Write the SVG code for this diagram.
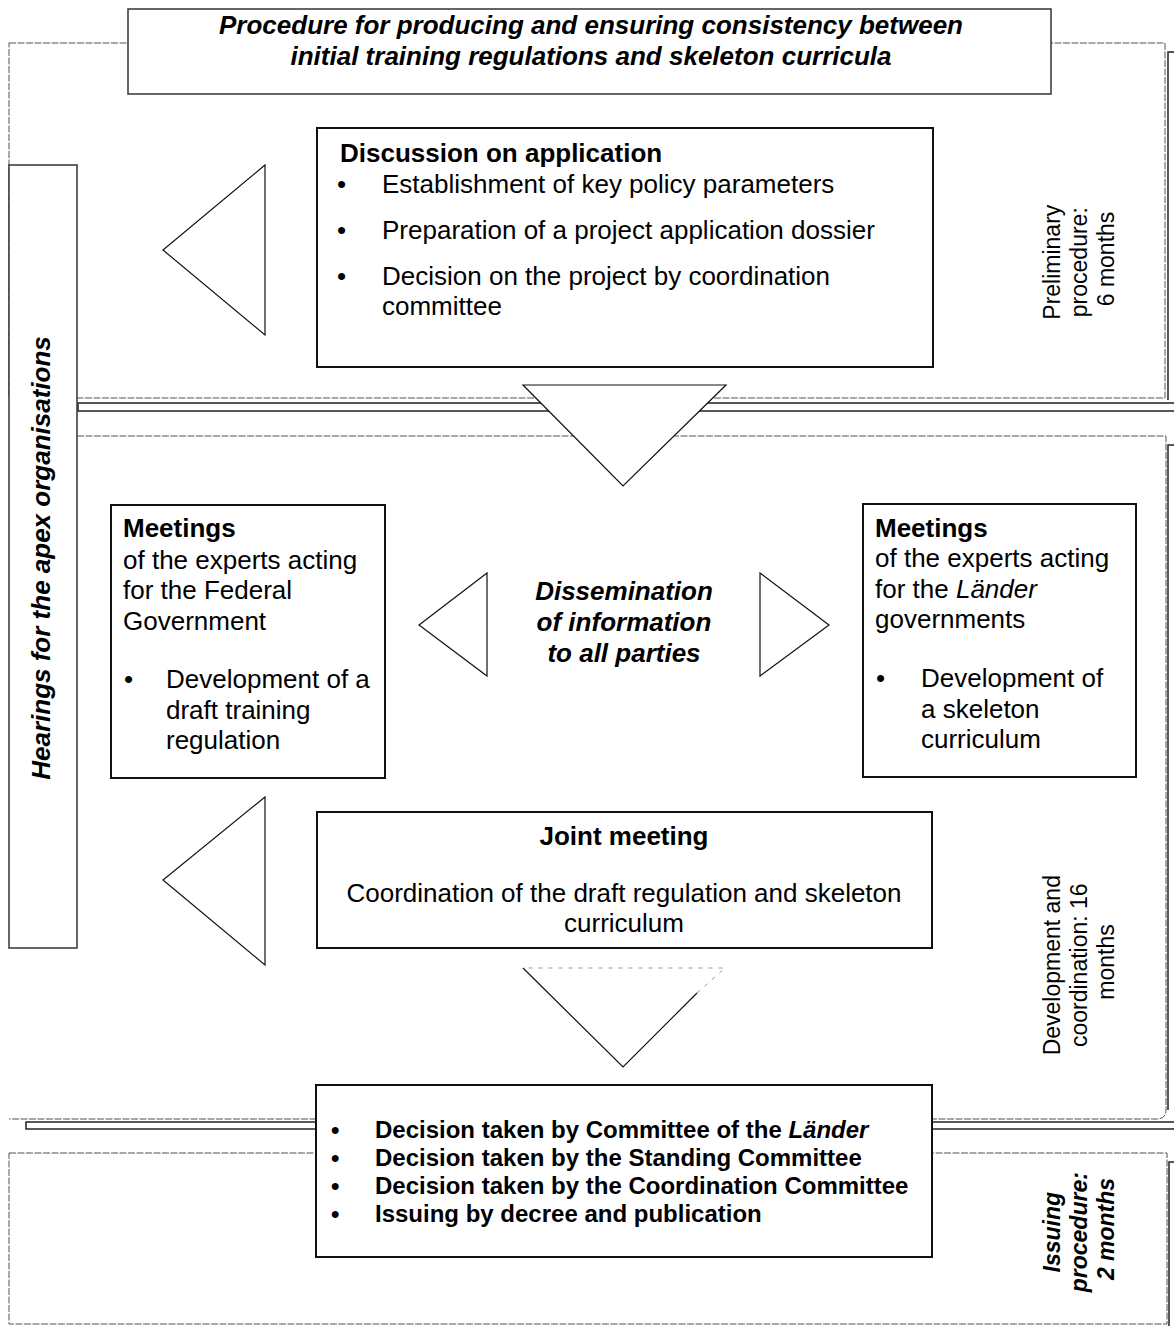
<svg xmlns="http://www.w3.org/2000/svg" width="1174" height="1326" viewBox="0 0 1174 1326">
  <defs>
    <style>
      .panel { fill: none; stroke: #555; stroke-width: 1; stroke-dasharray: 7 1.5; }
      .bracket { fill: none; stroke: #222; stroke-width: 1.5; }
      .bar { fill: #fff; stroke: #222; stroke-width: 1.5; }
      .box { fill: #fff; stroke: #111; stroke-width: 2; }
      .thinbox { fill: #fff; stroke: #333; stroke-width: 1.5; }
      .tri { fill: #fff; stroke: #111; stroke-width: 1.2; }
      .tri-open { fill: none; stroke: #111; stroke-width: 1.2; }
      .faint { fill: none; stroke: #999; stroke-width: 1; stroke-dasharray: 4 6; }
      text { font-family: "Liberation Sans", Arial, sans-serif; fill: #000; }
      .t26 { font-size: 26px; }
      .b26 { font-size: 26px; font-weight: bold; }
      .bi26 { font-size: 26px; font-weight: bold; font-style: italic; }
      .b24 { font-size: 24px; font-weight: bold; }
      .t23 { font-size: 23px; }
      .bi23 { font-size: 23px; font-weight: bold; font-style: italic; }
      .mid { text-anchor: middle; }
    </style>
  </defs>

  <rect width="1174" height="1326" fill="#fff"/>

  <!-- phase panels -->
  <g id="phase-panels">
    <rect class="panel" x="9" y="43" width="1156" height="355"/>
    <path class="bracket" d="M1174,52 H1168 V400"/>
    <path class="panel" d="M9,436 H1166 V1110 Q1166,1119 1157,1119 H9"/>
    <path class="bracket" d="M1174,445 H1168 V1110"/>
    <rect class="panel" x="9" y="1153" width="1158" height="171"/>
    <path class="bracket" d="M1174,1162 H1169 V1326"/>
    <!-- phase separators -->
    <rect class="bar" x="78" y="403" width="1100" height="8"/>
    <rect class="bar" x="26" y="1122" width="1152" height="7"/>
  </g>

  <!-- title -->
  <g id="title">
    <rect class="thinbox" x="128" y="9" width="923" height="85"/>
    <text class="bi26 mid" x="591" y="34">Procedure for producing and ensuring consistency between</text>
    <text class="bi26 mid" x="591" y="65">initial training regulations and skeleton curricula</text>
  </g>

  <!-- hearings side box -->
  <g id="hearings">
    <rect class="thinbox" x="9" y="165" width="68" height="783"/>
    <text class="bi26 mid" transform="translate(50,558) rotate(-90)">Hearings for the apex organisations</text>
  </g>

  <!-- connectors -->
  <g id="connectors">
    <polygon class="tri-open" points="265,165 163,250 265,335"/>
    <polygon class="tri" points="523,385 726,385 623,486"/>
    <polygon class="tri-open" points="487,573 419,625 487,676"/>
    <polygon class="tri-open" points="760,573 829,625 760,676"/>
    <polygon class="tri-open" points="265,797 163,880 265,965"/>
    <path class="tri-open" d="M523,968 L623,1067 L697,993"/>
    <path class="faint" d="M697,993 L725,968 H523"/>
  </g>

  <!-- discussion on application -->
  <g id="discussion">
    <rect class="box" x="317" y="128" width="616" height="239"/>
    <text class="b26" x="340" y="162">Discussion on application</text>
    <text class="t26" x="337" y="193">•</text>
    <text class="t26" x="382" y="193">Establishment of key policy parameters</text>
    <text class="t26" x="337" y="239">•</text>
    <text class="t26" x="382" y="239">Preparation of a project application dossier</text>
    <text class="t26" x="337" y="285">•</text>
    <text class="t26" x="382" y="285">Decision on the project by coordination</text>
    <text class="t26" x="382" y="315">committee</text>
  </g>

  <!-- phase labels -->
  <g id="label-preliminary">
    <text class="t23 mid" transform="translate(1060,259) rotate(-90)">
      <tspan x="0" y="0">Preliminary</tspan>
      <tspan x="0" y="27">procedure:</tspan>
      <tspan x="0" y="54">6 months</tspan>
    </text>
  </g>

  <!-- federal experts -->
  <g id="meetings-federal">
    <rect class="box" x="111" y="505" width="274" height="273"/>
    <text class="b26" x="123" y="537">Meetings</text>
    <text class="t26" x="123" y="569">of the experts acting</text>
    <text class="t26" x="123" y="599">for the Federal</text>
    <text class="t26" x="123" y="630">Government</text>
    <text class="t26" x="124" y="688">•</text>
    <text class="t26" x="166" y="688">Development of a</text>
    <text class="t26" x="166" y="719">draft training</text>
    <text class="t26" x="166" y="749">regulation</text>
  </g>

  <!-- dissemination -->
  <g id="dissemination">
    <text class="bi26 mid" x="624" y="600">Dissemination</text>
    <text class="bi26 mid" x="624" y="631">of information</text>
    <text class="bi26 mid" x="624" y="662">to all parties</text>
  </g>

  <!-- Länder experts -->
  <g id="meetings-laender">
    <rect class="box" x="863" y="504" width="273" height="273"/>
    <text class="b26" x="875" y="537">Meetings</text>
    <text class="t26" x="875" y="567">of the experts acting</text>
    <text class="t26" x="875" y="598">for the <tspan font-style="italic">Länder</tspan></text>
    <text class="t26" x="875" y="628">governments</text>
    <text class="t26" x="876" y="687">•</text>
    <text class="t26" x="921" y="687">Development of</text>
    <text class="t26" x="921" y="718">a skeleton</text>
    <text class="t26" x="921" y="748">curriculum</text>
  </g>

  <!-- joint meeting -->
  <g id="joint-meeting">
    <rect class="box" x="317" y="812" width="615" height="136"/>
    <text class="b26 mid" x="624" y="845">Joint meeting</text>
    <text class="t26 mid" x="624" y="902">Coordination of the draft regulation and skeleton</text>
    <text class="t26 mid" x="624" y="932">curriculum</text>
  </g>

  <g id="label-development">
    <text class="t23 mid" transform="translate(1060,962) rotate(-90)">
      <tspan x="0" y="0">Development and</tspan>
      <tspan x="0" y="27">coordination: 16</tspan>
      <tspan x="0" y="54">months</tspan>
    </text>
  </g>

  <!-- decisions and issuing -->
  <g id="decisions">
    <rect class="box" x="316" y="1085" width="616" height="172"/>
    <text class="b24" x="331" y="1138">•</text>
    <text class="b24" x="375" y="1138">Decision taken by Committee of the <tspan font-style="italic">Länder</tspan></text>
    <text class="b24" x="331" y="1166">•</text>
    <text class="b24" x="375" y="1166">Decision taken by the Standing Committee</text>
    <text class="b24" x="331" y="1194">•</text>
    <text class="b24" x="375" y="1194">Decision taken by the Coordination Committee</text>
    <text class="b24" x="331" y="1222">•</text>
    <text class="b24" x="375" y="1222">Issuing by decree and publication</text>
  </g>

  <g id="label-issuing">
    <text class="bi23 mid" transform="translate(1060,1229) rotate(-90)">
      <tspan x="0" y="0">Issuing</tspan>
      <tspan x="0" y="27">procedure:</tspan>
      <tspan x="0" y="54">2 months</tspan>
    </text>
  </g>
</svg>
